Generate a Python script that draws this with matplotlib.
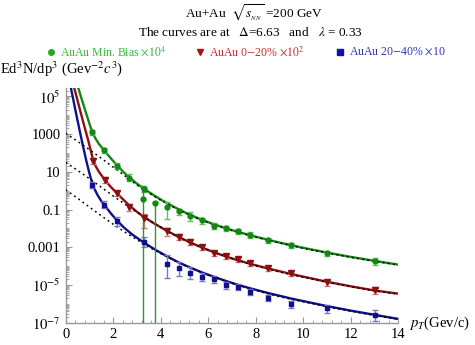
import numpy as np
import matplotlib
matplotlib.use("Agg")
import matplotlib.pyplot as plt
from matplotlib.lines import Line2D
from matplotlib.ticker import FixedLocator, FixedFormatter, NullFormatter

plt.rcParams['font.family'] = ['Liberation Serif', 'DejaVu Serif']
plt.rcParams['mathtext.fontset'] = 'stix'

# data points (pT, spectra)
g_pt = [1.1, 1.6, 2.15, 2.67, 3.3, 4.25, 4.75, 5.25, 5.75, 6.25, 6.75, 7.25, 7.75, 8.5, 9.5, 11, 13]
g_y = [1260, 145, 21, 4.9, 1.2, 0.14, 0.081, 0.048, 0.028, 0.014, 0.0105, 0.0072, 0.0047, 0.0023, 0.0013, 4.8e-4, 1.8e-4]
g_lo = [0.3, 0.3, 0.3, 0.35, 0.3, 0.78, 0.4, 0.5, 0.35, 0.35, 0.3, 0.3, 0.3, 0.3, 0.3, 0.3, 0.35]
g_hi = [0.35, 0.35, 0.35, 0.5, 0.35, 0.86, 0.4, 0.5, 0.35, 0.4, 0.3, 0.3, 0.3, 0.3, 0.35, 0.35, 0.45]
# two min-bias points whose lower error goes through zero
gz_pt = [3.25, 3.75]
gz_y = [0.35, 0.235]
gz_hi = [4.1, 0.1]

r_pt = [1.15, 1.65, 2.16, 2.66, 3.3, 4.25, 4.75, 5.25, 5.75, 6.25, 6.75, 7.25, 7.75, 8.5, 9.5, 11, 13]
r_y = [38, 3.7, 0.73, 0.14, 0.035, 7.5e-3, 3.6e-3, 2.0e-3, 1.0e-3, 5.1e-4, 3.5e-4, 2.3e-4, 1.5e-4, 7.8e-5, 4.2e-5, 1.4e-5, 5.4e-6]
r_lo = [0.3, 0.3, 0.3, 0.4, 0.7, 0.45, 0.35, 0.35, 0.3, 0.3, 0.3, 0.3, 0.3, 0.3, 0.3, 0.35, 0.4]
r_hi = [0.4, 0.4, 0.4, 0.5, 0.6, 0.45, 0.35, 0.35, 0.3, 0.3, 0.3, 0.3, 0.3, 0.3, 0.3, 0.35, 0.45]

b_pt = [1.11, 1.62, 2.16, 3.3, 4.25, 4.75, 5.25, 5.75, 6.25, 6.75, 7.25, 7.75, 8.5, 9.5, 11, 13]
b_y = [2.0, 0.18, 0.025, 2e-3, 1.3e-4, 7.8e-5, 4.5e-5, 2.6e-5, 2.0e-5, 1.0e-5, 8.1e-6, 4.4e-6, 2.1e-6, 9.8e-7, 5.7e-7, 2.6e-7]
b_lo = [0.3, 0.35, 0.45, 0.5, 0.82, 0.6, 0.55, 0.4, 0.35, 0.35, 0.35, 0.35, 0.35, 0.35, 0.4, 0.5]
b_hi = [0.4, 0.5, 0.7, 0.8, 2.1, 1.2, 1.0, 0.6, 0.5, 0.4, 0.4, 0.45, 0.45, 0.45, 0.6, 0.9]

# model curves, log10 values
g_cpt = [0.53, 0.7, 0.85, 1.0, 1.12, 1.25, 1.4, 1.63, 1.9, 2.15, 2.4, 2.67, 3.0, 3.5, 4.0, 4.5, 5.0, 5.5, 6.0, 6.5, 7.0, 7.5, 8.0, 9.0, 10, 11, 12, 13, 14]
g_clog = [5.45, 4.75, 4.15, 3.55, 3.10, 2.78, 2.48, 2.12, 1.72, 1.36, 1.03, 0.71, 0.37, -0.07, -0.47, -0.82, -1.14, -1.42, -1.67, -1.89, -2.09, -2.27, -2.44, -2.75, -3.03, -3.28, -3.51, -3.72, -3.92]
r_cpt = [0.36, 0.5, 0.62, 0.75, 0.85, 0.95, 1.05, 1.15, 1.25, 1.4, 1.65, 1.9, 2.16, 2.4, 2.66, 3.0, 3.3, 3.7, 4.25, 4.75, 5.25, 5.75, 6.25, 6.75, 7.25, 7.75, 8.5, 9.5, 11, 12, 13, 14]
r_clog = [5.45, 4.78, 4.2, 3.58, 3.12, 2.66, 2.16, 1.66, 1.33, 1.0, 0.57, 0.2, -0.14, -0.44, -0.76, -1.12, -1.40, -1.72, -2.12, -2.45, -2.75, -3.02, -3.27, -3.49, -3.69, -3.87, -4.12, -4.42, -4.83, -5.07, -5.29, -5.46]
b_cpt = [0.22, 0.3, 0.4, 0.5, 0.62, 0.75, 0.88, 1.0, 1.11, 1.2, 1.35, 1.5, 1.65, 1.9, 2.16, 2.45, 2.8, 3.3, 3.8, 4.25, 4.75, 5.25, 5.75, 6.25, 6.75, 7.25, 7.75, 8.5, 9.5, 11, 12, 13, 14]
b_clog = [5.45, 4.95, 4.33, 3.72, 3.0, 2.25, 1.52, 0.92, 0.42, 0.12, -0.25, -0.55, -0.80, -1.20, -1.58, -1.95, -2.32, -2.76, -3.15, -3.47, -3.80, -4.08, -4.34, -4.57, -4.79, -4.99, -5.17, -5.42, -5.72, -6.12, -6.36, -6.58, -6.80]

# dotted reference curves (log10)
d_pt = [0, 0.5, 1.0, 1.5, 2.0, 2.5, 3.0, 3.5, 4.0, 4.5, 5.0, 5.5, 6.0, 7.0, 8.0, 9.0, 10, 11, 12, 13, 14]
dg_log = [3.05, 2.62, 2.18, 1.72, 1.25, 0.78, 0.30, -0.12, -0.50, -0.85, -1.16, -1.44, -1.69, -2.11, -2.46, -2.77, -3.05, -3.30, -3.53, -3.74, -3.94]
dr_log = [1.50, 1.08, 0.64, 0.18, -0.28, -0.72, -1.14, -1.55, -1.93, -2.30, -2.62, -2.90, -3.15, -3.60, -3.98, -4.31, -4.59, -4.85, -5.09, -5.31, -5.48]
db_log = [0.05, -0.40, -0.87, -1.33, -1.78, -2.20, -2.60, -2.98, -3.33, -3.66, -3.96, -4.23, -4.48, -4.91, -5.29, -5.62, -5.89, -6.15, -6.39, -6.61, -6.82]

green, red, blue = '#118811', '#8e0f0f', '#10108e'
g_err, r_err, b_err = '#66bb66', '#cc7777', '#7777cc'

fig = plt.figure(figsize=(4.75, 3.45), dpi=100)
ax = fig.add_axes([0.1383, 0.0646, 0.7002, 0.6803])

ax.plot(g_cpt, 10 ** np.array(g_clog), color=green, lw=1.7, zorder=3)
ax.plot(r_cpt, 10 ** np.array(r_clog), color=red, lw=1.7, zorder=3)
ax.plot(b_cpt, 10 ** np.array(b_clog), color=blue, lw=1.7, zorder=3)
for dl in (dg_log, dr_log, db_log):
    ax.plot(d_pt, 10 ** np.array(dl), color='black', lw=1.1, ls=(0, (1.2, 2.2)), zorder=4)

def points(pt, y, lo, hi, col, ecol, mk, ms):
    y = np.array(y)
    yerr = [y * np.array(lo), y * np.array(hi)]
    ax.errorbar(pt, y, yerr=yerr, fmt=mk, color=col, ecolor=ecol, ms=ms,
                elinewidth=1.0, capsize=2.5, capthick=1.0, zorder=5)

points(g_pt, g_y, g_lo, g_hi, green, g_err, 'o', 3.5)
points(r_pt, r_y, r_lo, r_hi, red, r_err, 'v', 4.5)
points(b_pt, b_y, b_lo, b_hi, blue, b_err, 's', 3.5)

# min-bias points with vanishing lower bound
gz = np.array(gz_y)
ax.errorbar(gz_pt, gz, yerr=[gz * 0.99999999, gz * np.array(gz_hi)], fmt='o',
            color=green, ecolor='#2a9a2a', ms=3.5, elinewidth=1.0, capsize=2.5, zorder=5)

ax.set_yscale('log')
ax.set_xlim(0, 14)
ax.set_ylim(1e-7, 2.8e5)

ax.xaxis.set_major_locator(FixedLocator([0, 2, 4, 6, 8, 10, 12, 14]))
ax.xaxis.set_minor_locator(FixedLocator(np.arange(0, 14.01, 0.4)))
ymaj = [1e-7, 1e-5, 1e-3, 1e-1, 1e1, 1e3, 1e5]
ax.yaxis.set_major_locator(FixedLocator(ymaj))
ax.yaxis.set_major_formatter(FixedFormatter(['$10^{-7}$', '$10^{-5}$', '0.001', '0.1', '10', '1000', '$10^5$']))
ymin = [m * 10.0 ** k for k in range(-7, 6) for m in range(1, 10)]
ax.yaxis.set_minor_locator(FixedLocator(ymin))
ax.yaxis.set_minor_formatter(NullFormatter())

for s in ('top', 'right'):
    ax.spines[s].set_visible(False)
for s in ('left', 'bottom'):
    ax.spines[s].set_color('#999999')
    ax.spines[s].set_linewidth(1.0)
ax.tick_params(which='both', direction='in', color='#999999', labelsize=10.5)
ax.tick_params(which='major', length=4, width=0.8)
ax.tick_params(which='minor', length=2, width=0.6)

# titles
fig.text(0.535, 0.963, r'Au+Au  $\sqrt{s_{_{NN}}}$ =200 GeV', ha='center', va='center', fontsize=9.5)
fig.text(0.527, 0.905, r'The curves are at   $\Delta$=6.63   and   $\lambda$ = 0.33', ha='center', va='center', fontsize=9.5)

# legend row
leg_y = 0.849
for x, mk, mc, tc, lab in [(0.107, 'o', '#22aa22', '#33bb33', r'AuAu Min. Bias $\times10^4$'),
                           (0.421, 'v', '#aa1111', '#cc2a2a', r'AuAu 0$-$20% $\times10^2$'),
                           (0.716, 's', '#1111aa', '#3333bb', r'AuAu 20$-$40% $\times$10')]:
    fig.add_artist(Line2D([x], [leg_y], marker=mk, color=mc, ms=4, transform=fig.transFigure))
    fig.text(x + 0.019, leg_y, lab, color=tc, ha='left', va='center', fontsize=8.5)

fig.text(0.0, 0.80, r'Ed$^3$N/dp$^3$ (Gev$^{-2}c^3$)', ha='left', va='center', fontsize=10.5)
fig.text(0.862, 0.062, r'$p_T$(Gev/c)', ha='left', va='center', fontsize=10.5)

fig.savefig('out.png', dpi=100)
